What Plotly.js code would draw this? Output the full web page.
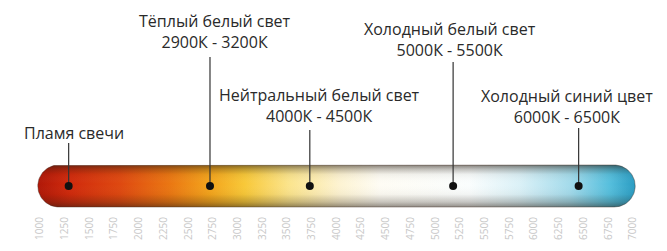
<!DOCTYPE html>
<html>
<head>
<meta charset="utf-8">
<script src="https://cdn.plot.ly/plotly-3.0.1.min.js"></script>
<style>html,body{margin:0;padding:0;background:#fff;}#chart{width:667px;height:251px;}</style>
</head>
<body>
<div id="chart"></div>
<script>
// ---- data ----
const tickValues = [1000,1250,1500,1750,2000,2250,2500,2750,3000,3250,3500,3750,4000,4250,4500,4750,5000,5250,5500,5750,6000,6250,6500,6750,7000];
const tickLabels = ['1000','1250','1500','1750','2000','2250','2500','2750','3000','3250','3500','3750','4000','4250','4500','4750','5000','5250','5500','5750','6000','6250','6500','6750','7000'];
const zoneNames = ['Пламя свечи','Тёплый белый свет','Нейтральный белый свет','Холодный белый свет','Холодный синий цвет'];
const zoneRanges = ['','2900К - 3200К','4000К - 4500К','5000К - 5500К','6000К - 6500К'];
const zoneScale = [1290, 2720, 3730, 5180, 6450];

// ---- layout parameters (positions / styles) ----
const W = 667, H = 251, MB = 40;
const xRange = [595.3, 7344];
const plotH = H - MB;
const yRange = [0, plotH];
const tubeCenter = 25, tubeHalf = 21, tubePad = 22;
const labelY = [78, 180, 106, 172, 105];
const labelShift = [5, 5, 10, -3, -12];
const lineTop = [68, 154, 81, 149, 83];

const unitPerPx = (xRange[1] - xRange[0]) / W;
function stadium(x0, x1, yc, ry) {
  const rx = ry * unitPerPx;
  const xs = [], ys = [];
  const n = 40;
  for (let i = 0; i <= n; i++) { const a = -Math.PI/2 + Math.PI * i / n; xs.push(x1 - rx + rx * Math.cos(a)); ys.push(yc + ry * Math.sin(a)); }
  for (let i = 0; i <= n; i++) { const a = Math.PI/2 + Math.PI * i / n; xs.push(x0 + rx + rx * Math.cos(a)); ys.push(yc + ry * Math.sin(a)); }
  xs.push(xs[0]); ys.push(ys[0]);
  return {xs, ys};
}
const tMin = tickValues[0] - tubePad, tMax = tickValues[tickValues.length - 1] + tubePad;
const st = stadium(tMin, tMax, tubeCenter, tubeHalf);

const traces = [];
traces.push({
  x: st.xs, y: st.ys, mode: 'lines', fill: 'toself', hoverinfo: 'skip', showlegend: false,
  line: {width: 0, color: 'rgba(0,0,0,0)'},
  fillgradient: {type: 'horizontal', colorscale: [
    [0, '#b01808'], [0.054, '#d02a0c'], [0.137, '#de4810'], [0.22, '#ea7612'],
    [0.288, '#f3a41c'], [0.346, '#f8c838'], [0.42, '#fbe48c'], [0.505, '#fdf3d2'],
    [0.572, '#fefcf4'], [0.722, '#fafdfd'], [0.806, '#dbf1f7'], [0.89, '#a4dbeb'],
    [0.957, '#56bfdd'], [1, '#2a9cc2']
  ]}
});
traces.push({
  x: st.xs, y: st.ys, mode: 'lines', fill: 'toself', hoverinfo: 'skip', showlegend: false,
  line: {width: 1, color: 'rgba(60,40,30,0.4)'},
  fillgradient: {type: 'vertical', colorscale: [
    [0, 'rgba(40,30,20,0.5)'], [0.12, 'rgba(40,30,20,0.25)'], [0.3, 'rgba(40,30,20,0.04)'],
    [0.55, 'rgba(255,255,255,0.0)'], [0.78, 'rgba(40,30,20,0.06)'], [0.9, 'rgba(40,30,20,0.28)'], [1, 'rgba(40,30,20,0.55)']
  ]}
});
// connector lines
zoneScale.forEach((v, i) => {
  traces.push({x: [v, v], y: [tubeCenter, lineTop[i]], mode: 'lines', hoverinfo: 'skip', showlegend: false,
    line: {color: '#333', width: 1.2}});
});
traces.push({x: zoneScale, y: zoneScale.map(() => tubeCenter), mode: 'markers', hoverinfo: 'skip', showlegend: false,
  marker: {color: '#111', size: 8}});

const annotations = zoneNames.map((n, i) => ({
  x: zoneScale[i], y: labelY[i], xref: 'x', yref: 'y', xshift: labelShift[i],
  text: zoneRanges[i] ? n + '<br>' + zoneRanges[i] : n,
  showarrow: false, xanchor: 'center', yanchor: 'middle', align: 'center',
  font: {family: 'Open Sans', size: 16, color: '#2a2a2a'}
}));

const layout = {
  width: W, height: H, margin: {l: 0, r: 0, t: 0, b: MB},
  paper_bgcolor: '#fff', plot_bgcolor: '#fff',
  xaxis: {range: xRange, tickvals: tickValues, ticktext: tickLabels, tickangle: -90, showgrid: false, zeroline: false,
    showline: false, ticks: '', tickfont: {family: 'Open Sans', size: 10, color: '#c8c8c8'}, ticklabelstandoff: 3, fixedrange: true},
  yaxis: {range: yRange, visible: false, fixedrange: true},
  annotations: annotations,
  showlegend: false
};
Plotly.newPlot('chart', traces, layout, {displayModeBar: false, staticPlot: true});
</script>
</body>
</html>
